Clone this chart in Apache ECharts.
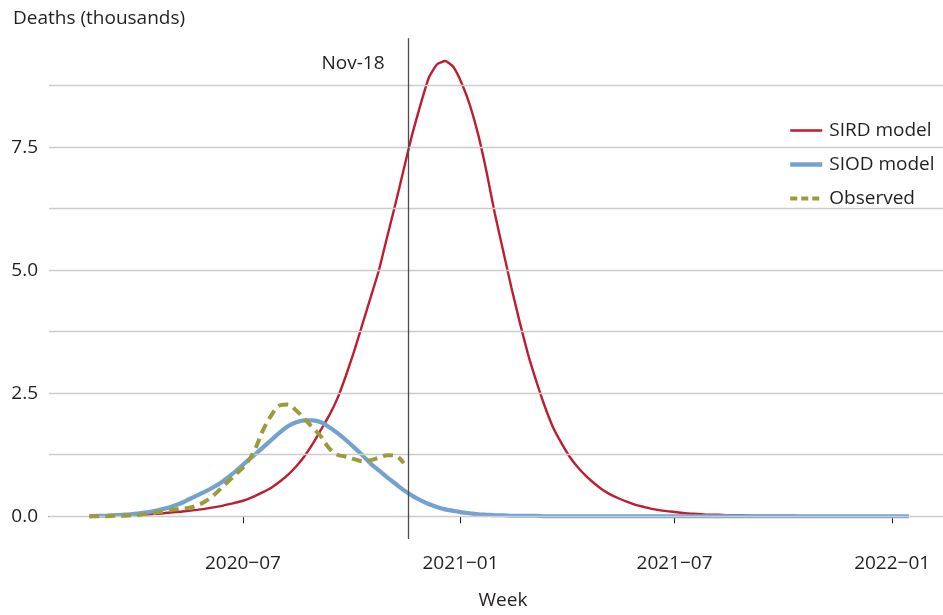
<!DOCTYPE html>
<html>
<head>
<meta charset="utf-8">
<script src="https://cdn.jsdelivr.net/npm/echarts@6/dist/echarts.min.js"></script>
<style>
html,body{margin:0;padding:0;background:#fff;}
#chart{width:943px;height:615px;}
</style>
</head>
<body>
<div id="chart"></div>
<script>
const weeks = [
'2020-02-22','2020-02-29','2020-03-07','2020-03-14','2020-03-21','2020-03-28','2020-04-04','2020-04-11','2020-04-18','2020-04-25',
'2020-05-02','2020-05-09','2020-05-16','2020-05-23','2020-05-30','2020-06-06','2020-06-13','2020-06-20','2020-06-27','2020-07-04',
'2020-07-11','2020-07-18','2020-07-25','2020-08-01','2020-08-08','2020-08-15','2020-08-22','2020-08-29','2020-09-05','2020-09-12',
'2020-09-19','2020-09-26','2020-10-03','2020-10-10','2020-10-17','2020-10-24','2020-10-31','2020-11-07','2020-11-14','2020-11-21',
'2020-11-28','2020-12-05','2020-12-12','2020-12-19','2020-12-26','2021-01-02','2021-01-09','2021-01-16','2021-01-23','2021-01-30',
'2021-02-06','2021-02-13','2021-02-20','2021-02-27','2021-03-06','2021-03-13','2021-03-20','2021-03-27','2021-04-03','2021-04-10',
'2021-04-17','2021-04-24','2021-05-01','2021-05-08','2021-05-15','2021-05-22','2021-05-29','2021-06-05','2021-06-12','2021-06-19',
'2021-06-26','2021-07-03','2021-07-10','2021-07-17','2021-07-24','2021-07-31','2021-08-07','2021-08-14','2021-08-21','2021-08-28',
'2021-09-04','2021-09-11','2021-09-18','2021-09-25','2021-10-02','2021-10-09','2021-10-16','2021-10-23','2021-10-30','2021-11-06',
'2021-11-13','2021-11-20','2021-11-27','2021-12-04','2021-12-11','2021-12-18','2021-12-25','2022-01-01','2022-01-08','2022-01-15'
];
const sirdModel = [
0.00,0.01,0.01,0.02,0.02,0.03,0.03,0.04,0.05,0.06,
0.08,0.09,0.11,0.13,0.15,0.18,0.21,0.25,0.29,0.34,
0.41,0.49,0.58,0.70,0.84,1.01,1.22,1.47,1.76,2.05,
2.40,2.85,3.35,3.90,4.45,5.00,5.68,6.35,7.05,7.75,
8.35,8.90,9.18,9.25,9.13,8.80,8.35,7.75,7.00,6.15,
5.40,4.65,3.95,3.30,2.75,2.25,1.82,1.50,1.22,1.00,
0.82,0.67,0.54,0.44,0.36,0.29,0.23,0.19,0.15,0.12,
0.10,0.08,0.06,0.05,0.04,0.03,0.03,0.02,0.02,0.02,
0.01,0.01,0.01,0.01,0.01,0.01,0.00,0.00,0.00,0.00,
0.00,0.00,0.00,0.00,0.00,0.00,0.00,0.00,0.00,0.00
];
const siodModel = [
0.00,0.01,0.01,0.02,0.03,0.04,0.06,0.08,0.11,0.15,
0.20,0.26,0.34,0.42,0.50,0.59,0.69,0.82,0.96,1.11,
1.25,1.40,1.55,1.70,1.83,1.91,1.95,1.95,1.91,1.81,
1.69,1.55,1.40,1.24,1.07,0.93,0.79,0.66,0.53,0.42,
0.33,0.25,0.19,0.14,0.11,0.08,0.06,0.04,0.03,0.02,
0.02,0.01,0.01,0.01,0.01,0.00,0.00,0.00,0.00,0.00,
0.00,0.00,0.00,0.00,0.00,0.00,0.00,0.00,0.00,0.00,
0.00,0.00,0.00,0.00,0.00,0.00,0.00,0.00,0.00,0.00,
0.00,0.00,0.00,0.00,0.00,0.00,0.00,0.00,0.00,0.00,
0.00,0.00,0.00,0.00,0.00,0.00,0.00,0.00,0.00,0.00
];
const observed = [
0.00,0.00,0.00,0.01,0.01,0.02,0.03,0.05,0.07,0.10,
0.13,0.15,0.17,0.22,0.30,0.42,0.58,0.74,0.90,1.07,
1.35,1.75,2.05,2.25,2.27,2.15,1.98,1.80,1.62,1.38,
1.25,1.21,1.16,1.12,1.14,1.19,1.24,1.23,1.08
];
const yTickLabels = [0, 2.5, 5.0, 7.5];
const gridValues = [0, 1.25, 2.5, 3.75, 5.0, 6.25, 7.5, 8.75];
const xTickDates = ['2020-07-01','2021-01-01','2021-07-01','2022-01-01'];
const cutoffDate = '2020-11-18';
const cutoffLabel = 'Nov-18';

const FONT = '"Open Sans", sans-serif';
const TXT = '#231f20';
const RED = '#be1e2d', BLUE = '#74a2cf', OLIVE = '#9b9b3c';
const ts = s => { const p = s.split('-').map(Number); return Date.UTC(p[0], p[1]-1, p[2]); };
const pairs = vals => vals.map((v, i) => [ts(weeks[i]), v]);

const chart = echarts.init(document.getElementById('chart'), null, {renderer: 'canvas'});
chart.setOption({
  animation: false,
  backgroundColor: '#fff',
  title: {
    text: 'Deaths (thousands)', left: 8, top: 4,
    textStyle: {fontFamily: FONT, fontSize: 19, fontWeight: 'normal', color: TXT}
  },
  legend: {
    data: [
      {name: 'SIRD model', lineStyle: {color: RED, width: 2.6}},
      {name: 'SIOD model', lineStyle: {color: BLUE, width: 4.5}},
      {name: 'Observed', lineStyle: {color: OLIVE, width: 4, type: [7, 4]}}
    ],
    orient: 'vertical', left: 783, top: 116,
    itemWidth: 32, itemHeight: 14, itemGap: 15,
    itemStyle: {opacity: 0},
    textStyle: {fontFamily: FONT, fontSize: 19, color: TXT, padding: [0,0,0,2]}
  },
  grid: {left: 49, right: 0, top: 38.3, bottom: 76, containLabel: false},
  xAxis: {
    type: 'value',
    min: ts('2020-01-19'), max: ts('2022-02-13'),
    name: 'Week', nameLocation: 'middle', nameGap: 52,
    nameTextStyle: {fontFamily: FONT, fontSize: 19, color: TXT, padding: [0,0,0,14]},
    axisLine: {show: true, lineStyle: {color: '#231f20', width: 1.2}},
    axisTick: {show: true, length: 7, lineStyle: {color: '#231f20', width: 1}, customValues: xTickDates.map(ts)},
    axisLabel: {
      show: true, margin: 15, fontFamily: FONT, fontSize: 19, color: TXT,
      customValues: xTickDates.map(ts),
      formatter: v => { const d = new Date(v); return d.getUTCFullYear() + '\u2212' + String(d.getUTCMonth()+1).padStart(2,'0'); }
    },
    splitLine: {show: false}
  },
  yAxis: {
    type: 'value', min: -0.4625, max: 9.7125,
    axisLine: {show: false}, axisTick: {show: false},
    splitLine: {show: false},
    axisLabel: {
      show: true, margin: 11, fontFamily: FONT, fontSize: 19, color: TXT,
      customValues: yTickLabels, formatter: v => v.toFixed(1)
    }
  },
  series: [
    {
      name: 'grid', type: 'line', data: [], silent: true, z: 1,
      markLine: {
        silent: true, symbol: ['none','none'], label: {show: false}, animation: false,
        lineStyle: {color: '#cccccc', width: 1.3, type: 'solid'},
        data: gridValues.map(v => ({yAxis: v}))
      }
    },
    {
      name: 'SIRD model', type: 'line', data: pairs(sirdModel), showSymbol: false, symbol: 'none', z: 3,
      smooth: 0.15,
      lineStyle: {color: RED, width: 2.4}, itemStyle: {color: RED}
    },
    {
      name: 'SIOD model', type: 'line', data: pairs(siodModel), showSymbol: false, symbol: 'none', z: 4,
      smooth: 0.3,
      lineStyle: {color: BLUE, width: 4.2}, itemStyle: {color: BLUE}
    },
    {
      name: 'Observed', type: 'line', data: pairs(observed), showSymbol: false, symbol: 'none', z: 5,
      smooth: 0.35,
      lineStyle: {color: OLIVE, width: 4, type: [10, 6]}, itemStyle: {color: OLIVE},
      markLine: {
        silent: true, symbol: ['none','none'], animation: false,
        label: {show: false},
        lineStyle: {color: '#4d4d4d', width: 1.3, type: 'solid'},
        data: [{xAxis: ts(cutoffDate)}]
      },
      markPoint: {
        silent: true, symbol: 'circle', symbolSize: 0, animation: false,
        label: {show: true, position: 'left', distance: 24, formatter: cutoffLabel,
          fontFamily: FONT, fontSize: 19, color: TXT},
        data: [{coord: [ts(cutoffDate), 9.19]}]
      }
    }
  ]
});
</script>
</body>
</html>
